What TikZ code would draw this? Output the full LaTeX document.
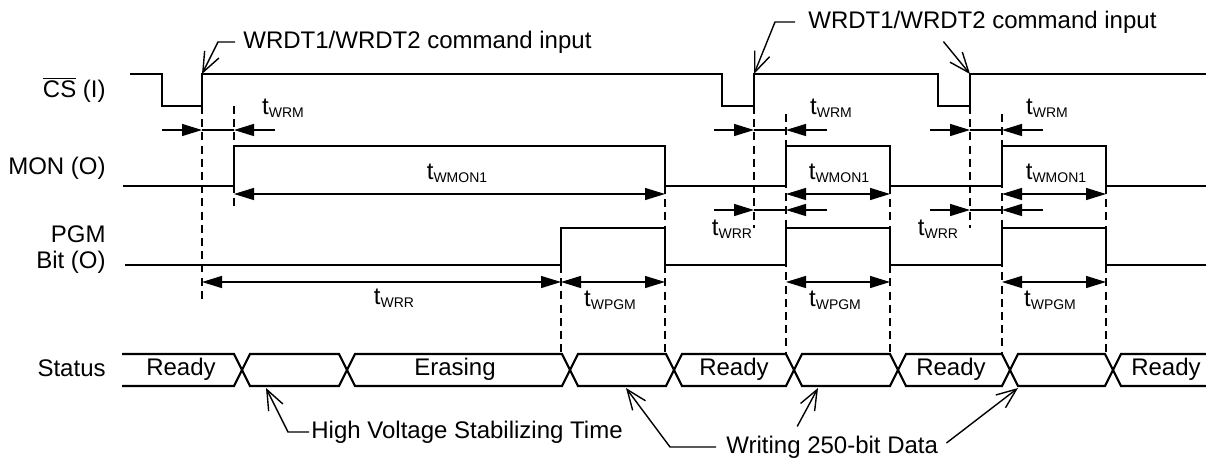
\documentclass[tikz,border=0pt]{standalone}
\usepackage{fontspec}
\setmainfont{Liberation Sans}
\usetikzlibrary{arrows.meta}
\newcommand{\tsub}[1]{t\raisebox{-1.6pt}{\fontsize{7}{8}\selectfont#1}}

\begin{document}
\begin{tikzpicture}[x=0.5pt, y=-0.5pt, font=\fontsize{12}{13}\selectfont,
  wave/.style={line width=1.25pt},
  bus/.style={line width=1.1pt},
  guide/.style={line width=0.7pt, dash pattern=on 4pt off 2.6pt},
  dim/.style={line width=0.7pt},
  dimtip/.style={-{Triangle[length=10pt,width=6pt]}},
  dimboth/.style={{Triangle[length=10pt,width=6pt]}-{Triangle[length=10pt,width=6pt]}},
  lead/.style={line width=0.7pt, -{Straight Barb[length=10pt,width=8pt]}},
  rowlabel/.style={anchor=east, inner sep=0pt, align=right}]
\useasboundingbox (0,0) rectangle (1206,461);

\node[rowlabel] (cs) at (106,90) {$\overline{\hbox{CS}}$ (I)};
\node[rowlabel] (mon) at (106,168) {MON (O)};
\node[rowlabel] (pgm) at (106,250) {PGM\\Bit (O)};
\node[rowlabel] (status) at (106,368) {Status};

\draw[wave] (130,74) -- (162,74) -- (162,106) -- (202,106) -- (202,74) -- (722,74) -- (722,106) -- (754,106) -- (754,74) -- (938,74) -- (938,106) -- (970,106) -- (970,74) -- (1206,74);
\draw[wave] (123,186) -- (234,186) -- (234,146) -- (665,146) -- (665,186) -- (786,186) -- (786,146) -- (890,146) -- (890,186) -- (1002,186) -- (1002,146) -- (1106,146) -- (1106,186) -- (1206,186);
\draw[wave] (125,265) -- (561,265) -- (561,228) -- (665,228) -- (665,265) -- (786,265) -- (786,228) -- (890,228) -- (890,265) -- (1002,265) -- (1002,228) -- (1106,228) -- (1106,265) -- (1206,265);

\draw[bus] (122,354) -- (234,354) -- (242,370) -- (234,386) -- (122,386);
\foreach \a/\b in {242/347, 347/570, 570/674, 674/794, 794/898, 898/1010, 1010/1113}
  \draw[bus] (\a,370) -- (\a+8,354) -- (\b-8,354) -- (\b,370) -- (\b-8,386) -- (\a+8,386) -- cycle;
\draw[bus] (1206,354) -- (1121,354) -- (1113,370) -- (1121,386) -- (1206,386);
\foreach \n/\x/\s in {st1/181/Ready, st2/455/Erasing, st3/734/Ready, st4/951/Ready, st5/1166/Ready}
  \node (\n) at (\x,369) {\s};

\foreach \x/\a/\b in {202/106/299, 234/106/208, 561/265/354, 665/186/354, 754/106/228, 970/106/228, 786/114/354, 1002/114/354, 890/186/354, 1106/186/354}
  \draw[guide] (\x,\a) -- (\x,\b);

\foreach \a/\b/\y in {202/234/130, 754/786/130, 970/1002/130, 754/786/210, 970/1002/210} {
  \draw[dim,dimtip] (\a-40,\y) -- (\a,\y);
  \draw[dim] (\a,\y) -- (\b,\y);
  \draw[dim,dimtip] (\b+41,\y) -- (\b,\y);
}
\foreach \a/\b/\y in {234/665/194, 786/890/194, 1002/1106/194, 202/561/282, 561/665/282, 786/890/282, 1002/1106/282}
  \draw[dim,dimboth] (\a,\y) -- (\b,\y);

\foreach \n/\x/\y/\s in {wrm1/283/108/WRM, wrm2/831/108/WRM, wrm3/1047/108/WRM, wmon1/457/173/WMON1, wmon2/839/173/WMON1, wmon3/1056/173/WMON1, wrr1/732/229/WRR, wrr2/938/229/WRR, wrr3/394/298/WRR, wpgm1/610/300/WPGM, wpgm2/835/300/WPGM, wpgm3/1050/300/WPGM}
  \node (\n) at (\x,\y) {\tsub{\s}};

\node[anchor=west, inner sep=4pt] (cmd1) at (235,42) {WRDT1/WRDT2 command input};
\draw[lead] (cmd1.west) -- ++(-17,0) -- (202,74);
\node[anchor=west, inner sep=4pt] (cmd2) at (800,22) {WRDT1/WRDT2 command input};
\draw[lead] ([xshift=-2.5pt]cmd2.west) -- ++(-20,0) -- (754,74);
\draw[lead] ([xshift=-19.5pt]cmd2.south) -- (970,74);

\node[anchor=west, inner sep=1pt] (hv) at (309,432) {High Voltage Stabilizing Time};
\draw[lead] (hv.west) -- ++(-21,0) -- (266,388);
\node[anchor=west, inner sep=1pt] (wr) at (724,447) {Writing 250-bit Data};
\draw[lead] ([xshift=-4pt]wr.west) -- ++(-46,0) -- (626,388);
\draw[lead] ([xshift=-17.5pt,yshift=3.5pt]wr.north) -- (818,388);
\draw[lead] ([xshift=3pt,yshift=2pt]wr.east) -- (1018,388);
\end{tikzpicture}
\end{document}
